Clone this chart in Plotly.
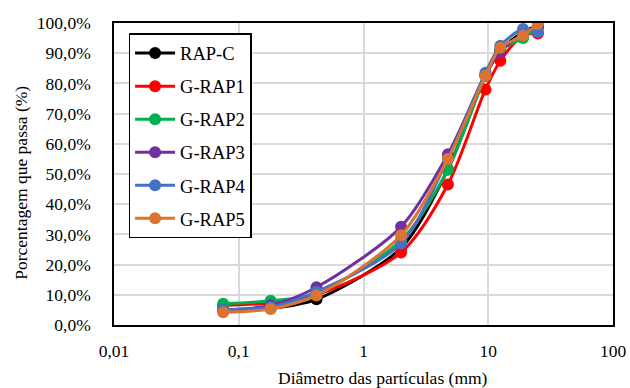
import plotly.graph_objects as go

sizes = [0.075, 0.18, 0.42, 2.0, 4.75, 9.5, 12.5, 19.0, 25.0]
rap_c = [5.0, 5.5, 8.5, 25.5, 51.5, 82.5, 91.0, 97.0, 99.0]
g_rap1 = [6.5, 7.3, 10.0, 24.0, 46.5, 78.0, 87.5, 96.0, 96.5]
g_rap2 = [7.0, 8.0, 10.5, 28.0, 51.5, 82.5, 91.0, 95.0, 98.5]
g_rap3 = [5.0, 6.5, 12.5, 32.5, 56.5, 83.0, 90.5, 96.5, 98.5]
g_rap4 = [5.0, 6.0, 11.0, 27.0, 55.0, 83.5, 92.5, 98.0, 97.0]
g_rap5 = [4.2, 5.3, 9.8, 29.7, 55.0, 82.5, 91.8, 95.8, 99.7]

series_names = ["RAP-C", "G-RAP1", "G-RAP2", "G-RAP3", "G-RAP4", "G-RAP5"]
series_values = [rap_c, g_rap1, g_rap2, g_rap3, g_rap4, g_rap5]
colors = ["#000000", "#FF0000", "#00B050", "#7030A0", "#4472C4", "#DA7430"]

y_ticks = list(range(0, 101, 10))
y_tick_labels = [f"{v},0%" for v in y_ticks]
x_ticks = [0.01, 0.1, 1, 10, 100]
x_tick_labels = ["0,01", "0,1", "1", "10", "100"]

FONT = "Liberation Serif"
TS = 17.5

fig = go.Figure()
for i, (name, vals, col) in enumerate(zip(series_names, series_values, colors)):
    fig.add_trace(go.Scatter(
        x=sizes, y=vals, name=name, mode="lines+markers",
        line=dict(color=col, width=3, shape="spline", smoothing=0.8),
        marker=dict(color=col, size=12),
        legendgroup=f"g{i}",
    ))

fig.update_layout(
    width=630, height=388,
    margin=dict(l=113.5, r=16.5, t=23, b=63, autoexpand=False),
    paper_bgcolor="white", plot_bgcolor="white",
    font=dict(family=FONT, color="black", size=TS),
    showlegend=True,
    legend=dict(
        x=0.0296, y=0.966, xanchor="left", yanchor="top",
        bgcolor="white", bordercolor="black", borderwidth=1.3,
        font=dict(family=FONT, size=18.5, color="black"),
        traceorder="grouped", tracegroupgap=6,
        itemwidth=40,
    ),
    xaxis=dict(
        type="log", range=[-2, 2], automargin=False,
        tickvals=x_ticks, ticktext=x_tick_labels,
        showgrid=True, gridcolor="#D9D9D9", gridwidth=1.5,
        showline=True, linecolor="black", linewidth=1.5, mirror=True,
        ticks="", ticklabelstandoff=9,
        tickfont=dict(family=FONT, size=TS, color="black"),
        zeroline=False,
    ),
    yaxis=dict(
        range=[0, 100], automargin=False,
        tickvals=y_ticks, ticktext=y_tick_labels,
        showgrid=True, gridcolor="#D9D9D9", gridwidth=1.5,
        showline=True, linecolor="black", linewidth=1.5, mirror=True,
        ticks="", ticklabelstandoff=18,
        tickfont=dict(family=FONT, size=TS, color="black"),
        zeroline=False,
    ),
    annotations=[
        dict(text="Diâmetro das partículas (mm)", xref="paper", yref="paper",
             x=0.539, y=-0.175, xanchor="center", yanchor="middle", showarrow=False,
             font=dict(family=FONT, size=TS, color="black")),
        dict(text="Porcentagem que passa (%)", xref="paper", yref="paper",
             x=-0.187, y=0.47, xanchor="center", yanchor="middle", showarrow=False,
             textangle=-90, font=dict(family=FONT, size=TS, color="black")),
    ],
)

fig.write_html("out.html",
               config={"displayModeBar": False},
               post_script="document.body.style.margin='0';document.body.style.padding='0';")
